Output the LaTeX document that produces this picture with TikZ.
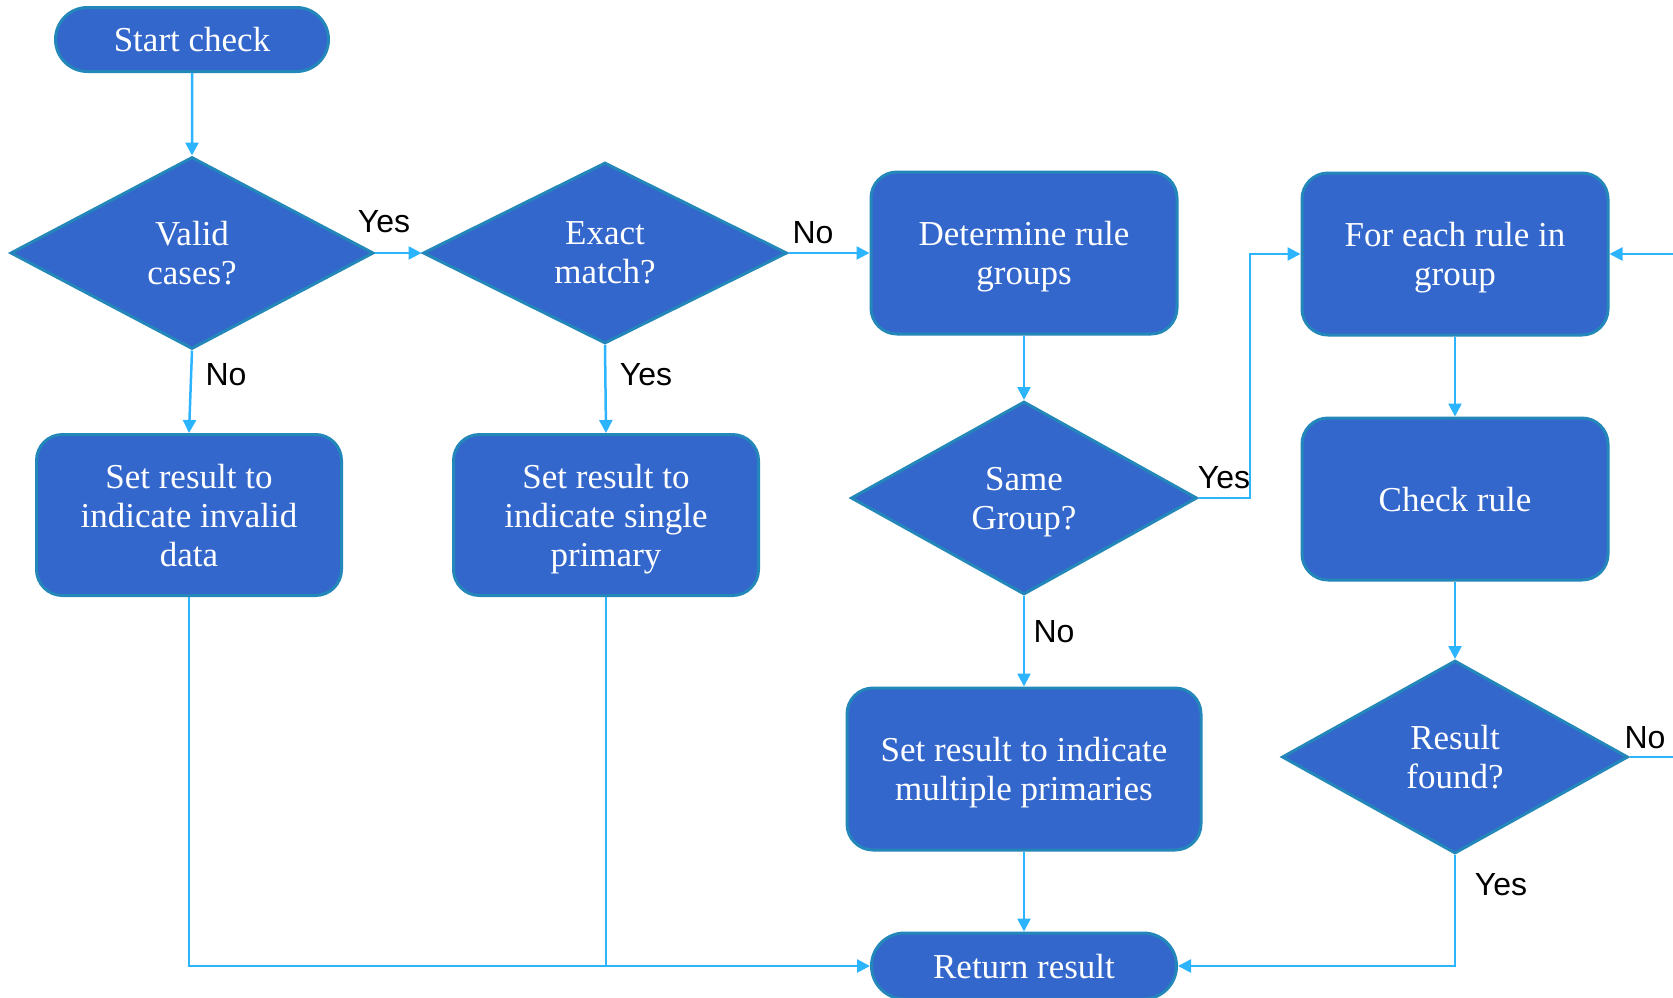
\documentclass[tikz,border=0pt]{standalone}
\usepackage{fontspec}
\setmainfont{Liberation Serif}
\newfontfamily\labelfont{Liberation Sans}
\usetikzlibrary{shapes.geometric,shapes.misc,arrows.meta}
\definecolor{boxfill}{RGB}{51,103,204}
\definecolor{boxedge}{RGB}{35,135,185}
\definecolor{conn}{RGB}{45,180,255}
\tikzset{
  x=1pt,y=-1pt,
  base/.style={fill=boxfill,draw=boxedge,line width=3pt,text=white,align=center,
    font=\fontsize{35}{39}\selectfont,inner sep=0pt,text depth=-6pt},
  procbox/.style={base,rectangle,rounded corners=26pt,minimum width=306pt,minimum height=162pt},
  decision/.style={base,diamond},
  terminal/.style={base,rounded rectangle,minimum height=64pt},
  conn/.style={draw=conn,line width=2.5pt,-{Triangle[length=13pt,width=13pt]}},
  plain/.style={draw=conn,line width=2.5pt},
  lbl/.style={font=\labelfont\fontsize{32}{34}\selectfont,text=black,inner sep=0pt}
}
\begin{document}
\begin{tikzpicture}
\clip (0,0) rectangle (1673,997);
\fill[white] (0,0) rectangle (1673,997);

\node[terminal,minimum width=273pt] (start) at (192,39.5) {Start check};
\node[decision,minimum width=363pt,minimum height=192pt] (valid) at (192,253) {Valid\\cases?};
\node[decision,minimum width=364pt,minimum height=181pt] (exact) at (605,253) {Exact\\match?};
\node[procbox] (det) at (1024,253) {Determine rule\\groups};
\node[procbox] (fe) at (1455,254) {For each rule in\\group};
\node[decision,minimum width=346pt,minimum height=193pt] (same) at (1024,498) {Same\\Group?};
\node[procbox] (check) at (1455,499) {Check rule};
\node[procbox,minimum width=305pt,minimum height=161pt] (invalid) at (189,515) {Set result to\\indicate invalid\\data};
\node[procbox,minimum width=305pt,minimum height=161pt] (single) at (606,515) {Set result to\\indicate single\\primary};
\node[decision,minimum width=346pt,minimum height=193pt] (res) at (1455,757) {Result\\found?};
\node[procbox,minimum width=354pt] (multi) at (1024,769) {Set result to indicate\\multiple primaries};
\node[terminal,minimum width=305pt,minimum height=66pt] (ret) at (1024,966) {Return result};

\coordinate (jx) at (1250,0);
\coordinate (rx) at (1700,0);

\draw[conn] (start) -- (valid);
\draw[conn] (valid.east) -- (exact.west);
\draw[conn] (exact.east) -- (det.west);
\draw[conn] (valid.south) -- (invalid.north);
\draw[conn] (exact.south) -- (single.north);
\draw[conn] (det.south) -- (same.north);
\draw[conn] (same.east) -- (same.east -| jx) |- (fe.west);
\draw[conn] (same.south) -- (multi.north);
\draw[conn] (fe.south) -- (check.north);
\draw[conn] (check.south) -- (res.north);
\draw[conn] (res.east) -- (res.east -| rx) |- (fe.east);
\draw[conn] (multi.south) -- (ret.north);
\draw[conn] (invalid.south) |- (ret.west);
\draw[plain] (single.south) -- (single.south |- ret.west);
\draw[conn] (res.south) |- (ret.east);

\node[lbl] (l1) at (384,222) {Yes};
\node[lbl] (l2) at (813,233) {No};
\node[lbl] (l3) at (226,375) {No};
\node[lbl] (l4) at (646,375) {Yes};
\node[lbl] (l5) at (1224,478) {Yes};
\node[lbl] (l6) at (1054,632) {No};
\node[lbl] (l7) at (1645,738) {No};
\node[lbl] (l8) at (1501,885) {Yes};
\end{tikzpicture}
\end{document}
